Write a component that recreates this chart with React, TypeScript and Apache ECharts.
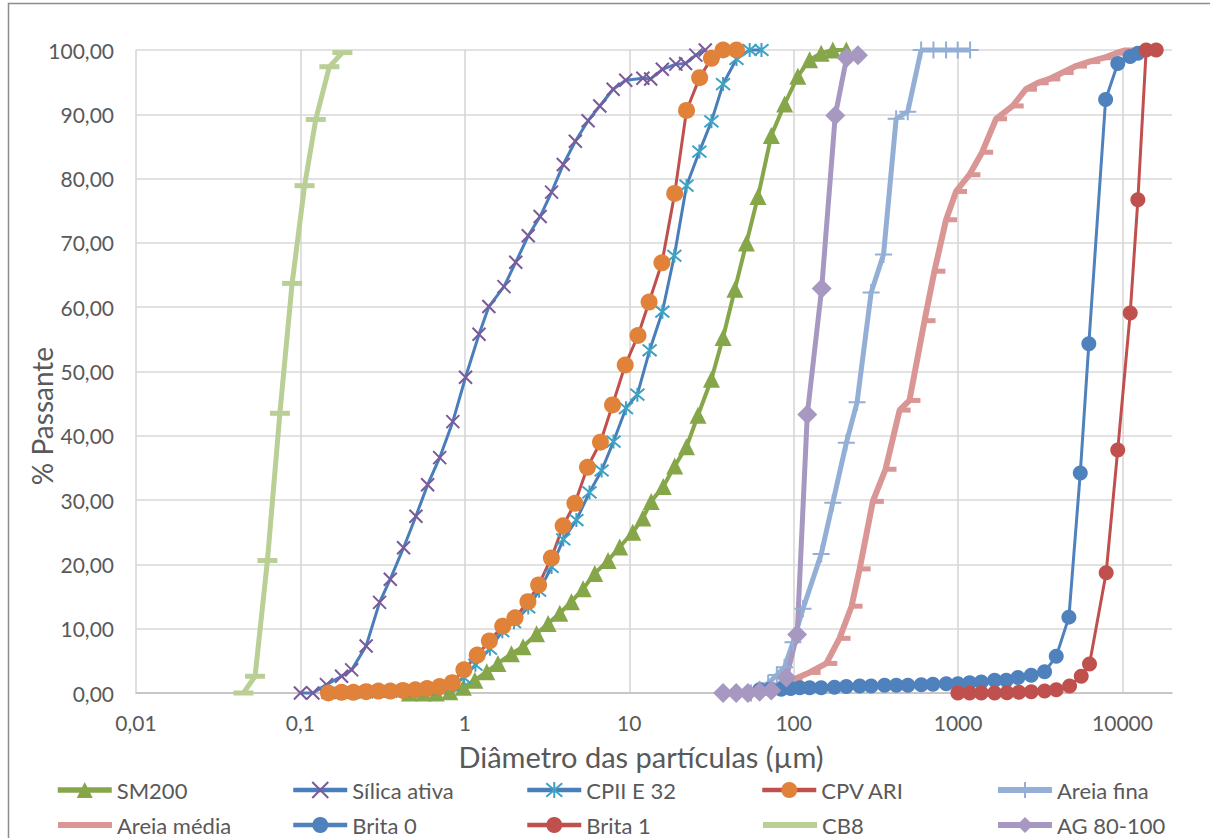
import React, { useEffect, useRef } from 'react';
import * as echarts from 'echarts';

const seriesNames = ['SM200', 'Sílica ativa', 'CPII E 32', 'CPV ARI', 'Areia fina', 'Areia média', 'Brita 0', 'Brita 1', 'CB8', 'AG 80-100'];
const xTickLabels = ['0,01', '0,1', '1', '10', '100', '1000', '10000'];
const yTickLabels = ['0,00', '10,00', '20,00', '30,00', '40,00', '50,00', '60,00', '70,00', '80,00', '90,00', '100,00'];
const xAxisTitle = 'Diâmetro das partículas (µm)';
const yAxisTitle = '% Passante';

const sm200X = [0.46, 0.56, 0.67, 0.81, 0.98, 1.15, 1.36, 1.59, 1.92, 2.26, 2.73, 3.21, 3.78, 4.45, 5.24, 6.17, 7.43, 8.75, 10.5, 12.1, 13.6, 16.1, 18.9, 22.3, 26.2, 31.6, 37.2, 43.9, 51.6, 60.7, 73.1, 88.1, 106, 125, 147, 173, 209];
const sm200Y = [0, 0, 0, 0.2, 0.9, 2.0, 3.3, 4.6, 6.1, 7.2, 9.2, 10.8, 12.4, 14.2, 16.2, 18.6, 20.6, 22.7, 25.0, 27.2, 29.8, 32.1, 35.3, 38.3, 43.2, 48.8, 55.3, 62.8, 70.0, 77.2, 86.7, 91.6, 95.9, 98.5, 99.5, 100, 100];

const silicaX = [0.1, 0.119, 0.144, 0.178, 0.205, 0.251, 0.303, 0.352, 0.424, 0.504, 0.594, 0.703, 0.845, 1.01, 1.22, 1.40, 1.73, 2.04, 2.43, 2.87, 3.37, 3.97, 4.70, 5.62, 6.62, 7.98, 9.52, 12.1, 13.5, 15.9, 19.2, 22.0, 25.4, 29.0];
const silicaY = [0, 0, 1.3, 2.6, 3.6, 7.3, 14.1, 17.7, 22.6, 27.5, 32.4, 36.6, 42.2, 49.1, 55.8, 60.1, 63.2, 67.0, 71.1, 74.1, 77.9, 82.2, 85.8, 89.0, 91.3, 93.9, 95.3, 95.6, 95.5, 97.0, 97.8, 97.9, 99.2, 100];

const cpiiX = [0.148, 0.178, 0.21, 0.251, 0.298, 0.352, 0.42, 0.50, 0.589, 0.703, 0.838, 0.987, 1.16, 1.42, 1.69, 1.99, 2.43, 2.83, 3.37, 3.97, 4.77, 5.73, 6.79, 8.02, 9.55, 11.2, 13.3, 15.9, 18.8, 22.3, 26.7, 31.6, 37.2, 44.9, 54.0, 63.7];
const cpiiY = [0, 0, 0.1, 0.1, 0.2, 0.2, 0.3, 0.4, 0.5, 0.8, 1.2, 2.4, 4.4, 6.9, 9.6, 11.0, 13.3, 15.9, 19.6, 23.9, 26.9, 31.2, 34.6, 39.1, 44.3, 46.4, 53.3, 59.3, 68.0, 78.9, 84.2, 88.9, 94.7, 98.6, 100, 100];

const cpvX = [0.148, 0.178, 0.21, 0.251, 0.298, 0.352, 0.42, 0.50, 0.589, 0.703, 0.838, 0.987, 1.19, 1.41, 1.70, 2.02, 2.42, 2.81, 3.36, 3.96, 4.67, 5.57, 6.68, 7.91, 9.45, 11.3, 13.2, 15.8, 18.9, 22.3, 26.8, 31.6, 37.2, 44.9];
const cpvY = [0, 0.1, 0.1, 0.2, 0.3, 0.3, 0.4, 0.5, 0.7, 1.0, 1.6, 3.6, 5.9, 8.1, 10.4, 11.7, 14.2, 16.8, 21.0, 26.0, 29.5, 35.1, 39.0, 44.8, 51.0, 55.6, 60.8, 66.9, 77.7, 90.6, 95.7, 98.7, 100, 100];

const areiaFinaX = [55, 62, 70, 79, 88, 99, 114, 147, 173, 209, 243, 296, 352, 420, 494, 596, 708, 845, 995, 1183];
const areiaFinaY = [0, 0.6, 1.5, 2.8, 4.0, 7.9, 13.1, 21.6, 29.6, 38.9, 45.2, 62.3, 68.2, 89.3, 90.4, 100, 100, 100, 100, 100];

const areiaMediaX = [76, 97, 125, 158, 190, 225, 252, 303, 362, 441, 506, 625, 718, 845, 972, 1172, 1400, 1702, 2148, 2587, 3048, 3589, 4325, 5212, 6281, 7745, 9125, 10475];
const areiaMediaY = [0.8, 2.0, 3.2, 4.6, 8.5, 13.5, 19.3, 29.8, 34.8, 44.0, 45.5, 57.9, 65.6, 73.6, 78.0, 80.6, 84.1, 89.3, 91.3, 93.9, 94.9, 95.5, 96.5, 97.5, 98.2, 98.8, 99.5, 100];

const brita0X = [62, 72, 84, 96, 109, 125, 147, 177, 209, 252, 296, 357, 421, 495, 597, 703, 847, 997, 1175, 1384, 1667, 1963, 2312, 2785, 3358, 3954, 4720, 5535, 6240, 7894, 9362, 11130, 12400];
const brita0Y = [0.5, 0.6, 0.6, 0.7, 0.8, 0.8, 0.8, 0.9, 1.0, 1.1, 1.1, 1.2, 1.2, 1.2, 1.3, 1.35, 1.45, 1.45, 1.6, 1.7, 2.0, 2.0, 2.4, 2.75, 3.3, 5.7, 11.8, 34.2, 54.3, 92.3, 97.9, 99.0, 99.5];

const brita1X = [997, 1175, 1384, 1667, 1983, 2344, 2785, 3358, 3954, 4764, 5610, 6300, 7955, 9355, 11140, 12400, 13930, 16030];
const brita1Y = [0, 0, 0, 0, 0.05, 0.1, 0.2, 0.3, 0.5, 1.1, 2.6, 4.5, 18.7, 37.8, 59.1, 76.7, 100, 100];

const cb8X = [0.045, 0.053, 0.063, 0.075, 0.089, 0.106, 0.124, 0.150, 0.180];
const cb8Y = [0, 2.6, 20.6, 43.5, 63.7, 78.9, 89.2, 97.4, 99.6];

const agX = [37.2, 44.7, 52.7, 62.1, 73.1, 90.3, 105, 121, 148, 179, 210, 246];
const agY = [0, 0, 0, 0.2, 0.4, 2.4, 9.1, 43.3, 62.9, 89.8, 98.8, 99.2];

const SYM_X = 'path://M0,0L10,10M10,0L0,10';
const SYM_STAR = 'path://M0,1L10,11M10,1L0,11M5,0L5,12';
const SYM_PLUS = 'path://M0,5L10,5M5,0L5,10';

const FONT = 'Lato, "Liberation Sans", sans-serif';
const TXT = '#595959';

type Def = {
  x: number[]; y: number[]; line: string; lw: number; marker: string;
  symbol: string; size: number | number[]; stroke?: boolean; offset?: number[]; legendMarker?: boolean;
};

const defs: Def[] = [
  { x: sm200X, y: sm200Y, line: '#86a64a', lw: 4, marker: '#86a64a', symbol: 'triangle', size: 17 },
  { x: silicaX, y: silicaY, line: '#4a7ebb', lw: 3, marker: '#7a5a9a', symbol: SYM_X, size: 13, stroke: true },
  { x: cpiiX, y: cpiiY, line: '#4a7ebb', lw: 3, marker: '#3ea2c2', symbol: SYM_STAR, size: 14, stroke: true },
  { x: cpvX, y: cpvY, line: '#c0504d', lw: 3, marker: '#e0823a', symbol: 'circle', size: 17 },
  { x: areiaFinaX, y: areiaFinaY, line: '#93afd6', lw: 5, marker: '#93afd6', symbol: SYM_PLUS, size: 17, stroke: true },
  { x: areiaMediaX, y: areiaMediaY, line: '#d99694', lw: 6, marker: '#d99694', symbol: 'rect', size: [12, 5], offset: [5, 0], legendMarker: false },
  { x: brita0X, y: brita0Y, line: '#4f81bd', lw: 3, marker: '#4f81bd', symbol: 'circle', size: 15 },
  { x: brita1X, y: brita1Y, line: '#c0504d', lw: 3, marker: '#c0504d', symbol: 'circle', size: 15 },
  { x: cb8X, y: cb8Y, line: '#b9cf95', lw: 5, marker: '#b9cf95', symbol: 'rect', size: [20, 5], legendMarker: false },
  { x: agX, y: agY, line: '#a698c0', lw: 5, marker: '#a698c0', symbol: 'diamond', size: 20 },
];

const legendLefts = [55, 291, 525, 760, 995];
const legendTops = [779, 814];

export default function App() {
  const ref = useRef<HTMLDivElement>(null);
  useEffect(() => {
    const chart = echarts.init(ref.current!, null, { renderer: 'svg' });
    const series = defs.map((d, i) => ({
      name: seriesNames[i],
      type: 'line',
      data: d.x.map((xv, k) => [xv, d.y[k]]),
      symbol: d.symbol,
      symbolSize: d.size,
      symbolOffset: d.offset || [0, 0],
      showAllSymbol: true,
      clip: false,
      lineStyle: { color: d.line, width: d.lw },
      itemStyle: d.stroke
        ? { color: d.marker, borderColor: d.marker, borderWidth: 2 }
        : { color: d.marker, borderWidth: 0 },
      emphasis: { disabled: true },
    }));
    const legends = defs.map((d, i) => ({
      data: [seriesNames[i]],
      left: legendLefts[i % 5],
      top: legendTops[Math.floor(i / 5)],
      orient: 'horizontal',
      padding: 0,
      itemGap: 0,
      itemWidth: 54,
      itemHeight: 20,
      selectedMode: false,
      textStyle: { fontSize: 22, color: TXT, fontFamily: FONT },
      lineStyle: { color: d.line, width: Math.min(d.lw + 1.5, 6) },
      itemStyle: d.legendMarker === false
        ? { opacity: 0 }
        : d.stroke
          ? { color: d.marker, borderColor: d.marker, borderWidth: 2 }
          : { color: d.marker, borderWidth: 0 },
    }));
    const option: any = {
      animation: false,
      backgroundColor: '#ffffff',
      textStyle: { fontFamily: FONT },
      grid: { left: 136, right: 38, top: 50, bottom: 145, containLabel: false },
      xAxis: {
        type: 'log',
        logBase: 10,
        min: 0.01,
        max: 20000,
        axisLine: { show: true, lineStyle: { color: '#bfbfbf', width: 1.5 } },
        axisTick: { show: false },
        splitLine: { show: true, showMaxLine: false, lineStyle: { color: '#d4d4d4', width: 1.5 } },
        axisLabel: {
          fontSize: 21, color: TXT, fontFamily: FONT, margin: 19, showMaxLabel: false,
          formatter: (v: number) => {
            const lg = Math.log10(v);
            const e = Math.round(lg);
            if (Math.abs(lg - e) > 0.001) return '';
            return xTickLabels[e + 2] ?? '';
          },
        },
      },
      yAxis: {
        type: 'value',
        min: 0,
        max: 100,
        interval: 10,
        axisLine: { show: false },
        axisTick: { show: false },
        splitLine: { show: true, lineStyle: { color: '#d9d9d9', width: 1.5 } },
        axisLabel: {
          fontSize: 21, color: TXT, fontFamily: FONT, margin: 22,
          formatter: (v: number) => yTickLabels[Math.round(v / 10)] ?? '',
        },
      },
      legend: legends,
      graphic: [
        { type: 'rect', left: 6, top: 1, shape: { x: 0, y: 0, width: 1300, height: 1000 }, style: { fill: 'none', stroke: '#8c8c8c', lineWidth: 1.5 }, silent: true, z: -10 },
        { type: 'text', x: 641, y: 756, style: { text: xAxisTitle, fontSize: 29, fill: TXT, fontFamily: FONT, align: 'center', verticalAlign: 'middle' } },
        { type: 'text', x: 42, y: 416, rotation: Math.PI / 2, style: { text: yAxisTitle, fontSize: 28, fill: TXT, fontFamily: FONT, align: 'center', verticalAlign: 'middle' } },
      ],
      series,
    };
    chart.setOption(option);
    return () => chart.dispose();
  }, []);
  return <div ref={ref} style={{ position: 'fixed', left: 0, top: 0, width: 1210, height: 838, background: '#fff' }} />;
}
